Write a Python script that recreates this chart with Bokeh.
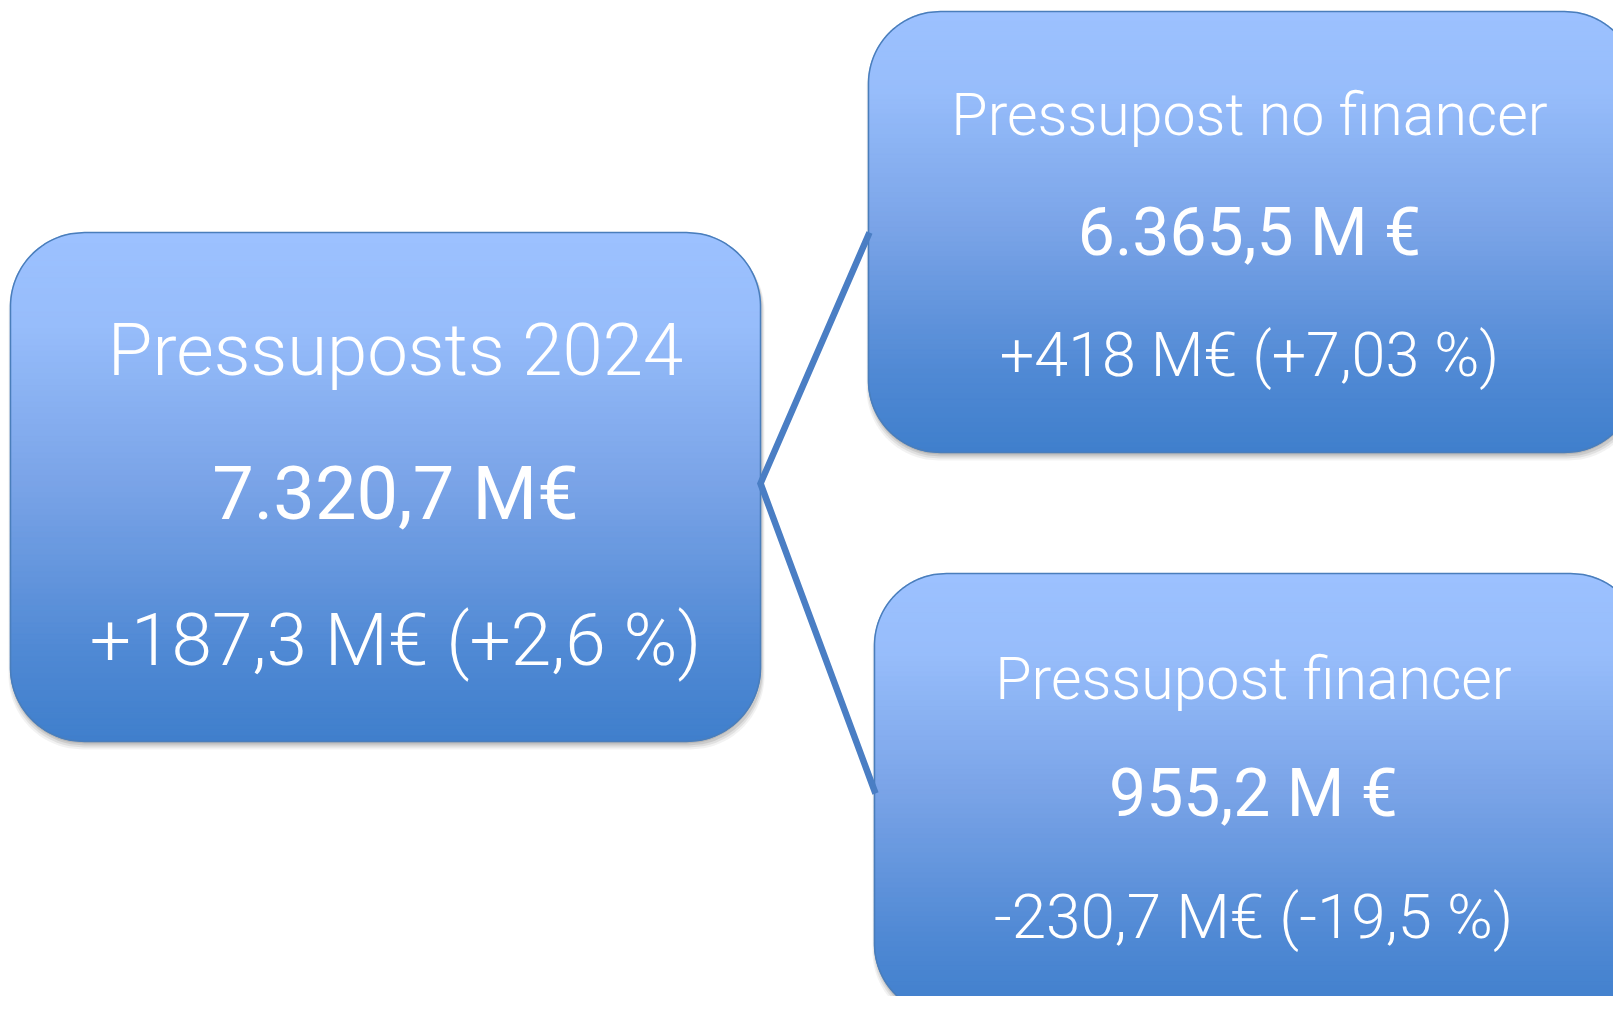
import numpy as np
from bokeh.plotting import figure
from bokeh.models import Range1d, ColumnDataSource
from bokeh.core.properties import value
from bokeh.embed import file_html
from bokeh.resources import INLINE

# ---------------- data ----------------
titles = ["Pressuposts 2024", "Pressupost no financer", "Pressupost financer"]
amounts = ["7.320,7 M€", "6.365,5 M €", "955,2 M €"]
changes = ["+187,3 M€ (+2,6 %)", "+418 M€ (+7,03 %)", "-230,7 M€ (-19,5 %)"]

# ---------------- layout (image pixel coordinates) ----------------
# box: left, top, right, bottom, radius
boxes = [
    (10, 232, 760, 741, 74),
    (868, 11, 1636, 452, 72),
    (874, 573, 1642, 1015, 72),
]
text_x = [395, 1249, 1253]
title_base = [377, 136, 700]
amount_base = [520, 256, 817]
change_base = [667, 377, 939]
title_size = [72.5, 59, 59]
amount_size = [74, 66, 66]
change_size = [73, 61, 62]
FONT = "Roboto Light"
FONT_AMT = "Roboto"
BASE_SHIFT = 0.37  # em offset of renderer baseline

join_y = 483
attach_y = [232, 793]

grad_stops = [0.0, 0.18, 0.5, 0.82, 1.0]
grad_cols = [(156, 193, 255), (151, 189, 251), (121, 163, 231), (80, 137, 212), (64, 127, 204)]

W, H = 1613, 996
p = figure(width=W, height=H, x_range=Range1d(0, W), y_range=Range1d(H, 0),
           output_backend="svg", toolbar_location=None, min_border=0)
p.axis.visible = False
p.grid.visible = False
p.outline_line_color = None
p.background_fill_color = "white"


def inset(y, T, B, r):
    d = np.minimum(y - T, B - y)
    d = np.clip(d, 0, None)
    out = np.where(d < r, r - np.sqrt(np.clip(r * r - (r - d) ** 2, 0, None)), 0.0)
    return out


def rr_outline(L, T, R, B, r, n=400):
    ys = np.linspace(T, B, n)
    ins = inset(ys, T, B, r)
    xs = np.concatenate([L + ins, (R - ins)[::-1]])
    yy = np.concatenate([ys, ys[::-1]])
    return list(xs), list(yy)


def grad_color(t):
    c = [np.interp(t, grad_stops, [g[i] for g in grad_cols]) for i in range(3)]
    return "#%02x%02x%02x" % tuple(int(round(v)) for v in c)


for k, (L, T, R, B, r) in enumerate(boxes):
    # soft shadow
    for j, (dx, dy, g, a) in enumerate([(1, 5, 6, 0.05), (1, 4, 4, 0.07), (1, 3, 2, 0.09), (0, 2, 0, 0.10)]):
        sx, sy = rr_outline(L - g / 2 + dx, T + dy, R + g / 2 + dx, B + dy + g / 2, r)
        p.patch(sx, sy, fill_color="black", fill_alpha=a, line_color=None)
    # gradient slices
    N = 90
    edges = np.linspace(T, B, N + 1)
    pxs, pys, cols = [], [], []
    for i in range(N):
        y0, y1 = edges[i], edges[i + 1]
        ys = np.linspace(y0, y1, 6)
        ins = inset(ys, T, B, r)
        pxs.append(list(np.concatenate([L + ins, (R - ins)[::-1]])))
        pys.append(list(np.concatenate([ys, ys[::-1]])))
        cols.append(grad_color((0.5 * (y0 + y1) - T) / (B - T)))
    src = ColumnDataSource(dict(xs=pxs, ys=pys, c=cols))
    p.patches("xs", "ys", source=src, fill_color="c", line_color="c", line_width=1.2)
    ox, oy = rr_outline(L, T, R, B, r)
    p.patch(ox, oy, fill_color=None, line_color="#4a7ebb", line_width=1.5)

# connectors (drawn over the box edges)
lb = boxes[0]
cx = [[boxes[1][0] + 1, lb[2], boxes[2][0] + 1]]
cy = [[attach_y[0], join_y, attach_y[1]]]
p.multi_line(xs=cx, ys=cy, line_color="#4a7ec4", line_width=6.5, line_join="miter")

for k in range(3):
    for txt, base, size, font in [(titles[k], title_base[k], title_size[k], FONT),
                                  (amounts[k], amount_base[k], amount_size[k], FONT_AMT),
                                  (changes[k], change_base[k], change_size[k], FONT)]:
        p.text(x=[text_x[k]], y=[base - BASE_SHIFT * size], text=[txt], text_color="white",
               text_font=value(font), text_font_size="%.1fpx" % size, text_align="center",
               text_baseline="alphabetic")

open("out.html", "w").write(file_html(p, INLINE))
